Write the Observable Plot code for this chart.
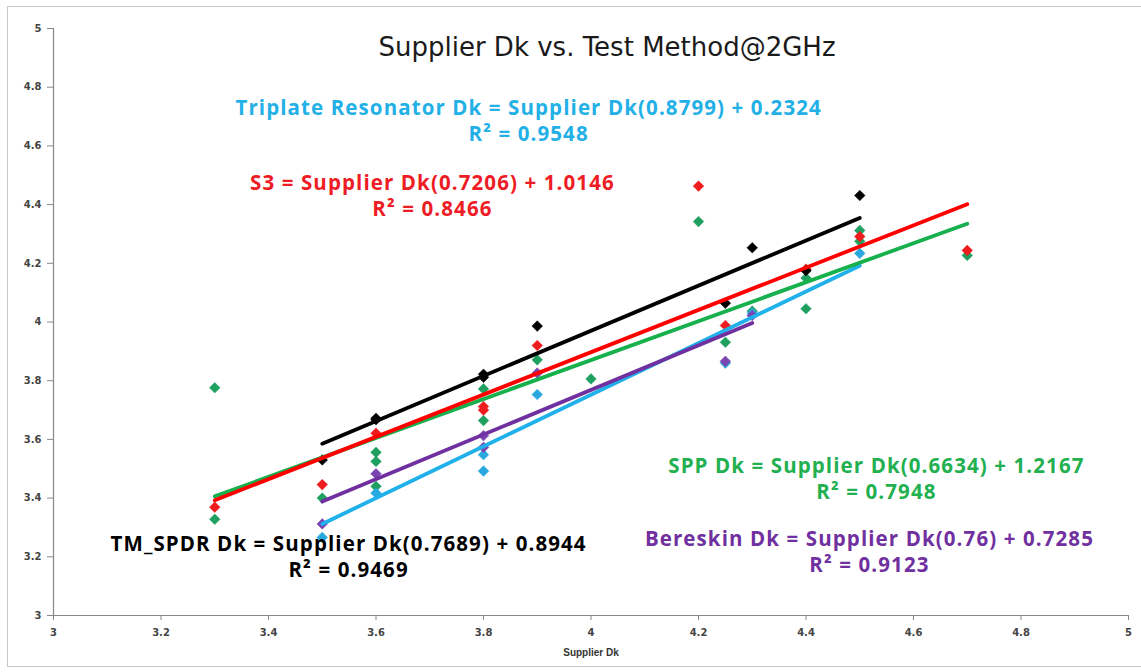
<!DOCTYPE html>
<html>
<head>
<meta charset="utf-8">
<script src="https://cdn.jsdelivr.net/npm/d3@7"></script>
<script src="https://cdn.jsdelivr.net/npm/@observablehq/plot@0.6"></script>
<style>
  html, body { margin: 0; padding: 0; background: #fff; }
  #wrap { position: relative; width: 1141px; height: 672px; }
  #border { position: absolute; left: 7px; top: 6px; width: 1134px; height: 661px; border: 1px solid #c8c8c8; box-sizing: border-box; border-right: none; pointer-events: none; }
</style>
</head>
<body>
<div id="wrap"><div id="border"></div></div>
<script>
// ---- Data ----
const seriesNames = ["TM_SPDR", "S3", "SPP", "Triplate Resonator", "Bereskin"];
const seriesColors = ["#000000", "#ee1c1c", "#1fa060", "#29a8e0", "#7a45b0"];
const lineColors  = ["#000000", "#ff0000", "#16b04c", "#20b0ea", "#7030a0"];
const labelColors = ["#000000", "#ee1c24", "#22b050", "#22b0e6", "#7030a0"];

const tmX = [3.5, 3.6, 3.6, 3.8, 3.8, 3.9, 4.25, 4.3, 4.4, 4.5];
const tmY = [3.530, 3.667, 3.672, 3.812, 3.822, 3.986, 4.064, 4.253, 4.175, 4.431];

const s3X = [3.3, 3.5, 3.6, 3.8, 3.8, 3.9, 4.2, 4.25, 4.4, 4.5, 4.7];
const s3Y = [3.369, 3.446, 3.621, 3.700, 3.712, 3.920, 4.463, 3.988, 4.180, 4.291, 4.244];

const sppX = [3.3, 3.3, 3.5, 3.6, 3.6, 3.6, 3.8, 3.8, 3.9, 4.0, 4.2, 4.25, 4.3, 4.4, 4.4, 4.5, 4.5, 4.7];
const sppY = [3.776, 3.328, 3.400, 3.556, 3.525, 3.440, 3.772, 3.664, 3.871, 3.806, 4.342, 3.931, 4.037, 4.150, 4.045, 4.312, 4.275, 4.227];

const triX = [3.5, 3.6, 3.8, 3.8, 3.9, 4.25, 4.3, 4.5];
const triY = [3.266, 3.417, 3.548, 3.492, 3.753, 3.860, 4.030, 4.234];

const berX = [3.5, 3.6, 3.8, 3.8, 3.9, 4.25, 4.3];
const berY = [3.312, 3.483, 3.613, 3.573, 3.826, 3.866, 4.022];

// trend line coefficients (slope, intercept) as printed on the chart
const slopes = [0.7689, 0.7206, 0.6634, 0.8799, 0.76];
const intercepts = [0.8944, 1.0146, 1.2167, 0.2324, 0.7285];

const eqLine1 = [
  "TM_SPDR Dk = Supplier Dk(0.7689) + 0.8944",
  "S3 = Supplier Dk(0.7206) + 1.0146",
  "SPP Dk = Supplier Dk(0.6634) + 1.2167",
  "Triplate Resonator Dk = Supplier Dk(0.8799) + 0.2324",
  "Bereskin Dk = Supplier Dk(0.76) + 0.7285"
];
const eqLine2 = ["R² = 0.9469", "R² = 0.8466", "R² = 0.7948", "R² = 0.9548", "R² = 0.9123"];
// label anchor positions in data units (Supplier Dk, Test Dk)
const labelX = [3.549, 3.705, 4.531, 3.884, 4.518];
const labelY = [3.245, 4.475, 3.511, 4.731, 3.262];

const xTicks = [3, 3.2, 3.4, 3.6, 3.8, 4, 4.2, 4.4, 4.6, 4.8, 5];
const yTicks = [3, 3.2, 3.4, 3.6, 3.8, 4, 4.2, 4.4, 4.6, 4.8, 5];

const title = "Supplier Dk vs. Test Method@2GHz";
const xLabel = "Supplier Dk";

// ---- Build tables ----
const xs = [tmX, s3X, sppX, triX, berX];
const ys = [tmY, s3Y, sppY, triY, berY];
const points = [];
xs.forEach((arr, i) => arr.forEach((x, j) => points.push({series: seriesNames[i], x, y: ys[i][j], color: seriesColors[i], order: i})));
const drawOrder = [2, 3, 4, 1, 0];
const orderedPoints = drawOrder.flatMap(k => points.filter(p => p.order === k));

const trend = [];
xs.forEach((arr, i) => {
  const [x0, x1] = d3.extent(arr);
  [x0, x1].forEach(x => trend.push({series: seriesNames[i], x, y: slopes[i] * x + intercepts[i], color: lineColors[i]}));
});
const trendOrder = [3, 4, 2, 1, 0];
const orderedTrend = trendOrder.flatMap(k => trend.filter(t => t.series === seriesNames[k]));

const labels = seriesNames.map((s, i) => ({x: labelX[i], y: labelY[i], t: eqLine1[i] + "\n" + eqLine2[i], color: labelColors[i]}));

const fmt = d => String(+d.toFixed(1));

const chart = Plot.plot({
  width: 1141,
  height: 672,
  marginLeft: 53,
  marginRight: 13,
  marginTop: 28,
  marginBottom: 57,
  style: {background: "transparent", overflow: "visible"},
  x: {domain: [3, 5], ticks: xTicks, tickFormat: fmt, label: null},
  y: {domain: [3, 5], ticks: yTicks, tickFormat: fmt, label: null},
  marks: [
    Plot.axisY({ticks: yTicks, tickFormat: fmt, tickSize: 6, tickPadding: 6, stroke: "#888", fill: "#444", fontSize: 10, fontFamily: "DejaVu Sans", fontWeight: "bold", label: null}),
    Plot.axisX({ticks: xTicks, tickFormat: fmt, tickSize: 5, tickPadding: 8, stroke: "#888", fill: "#444", fontSize: 10, fontFamily: "DejaVu Sans", fontWeight: "bold", label: null}),
    Plot.ruleX([3], {stroke: "#888", strokeWidth: 1.2}),
    Plot.ruleY([3], {stroke: "#888", strokeWidth: 1.2}),
    Plot.dot(orderedPoints, {x: "x", y: "y", symbol: "diamond2", r: 4.8, fill: "color", stroke: "color", strokeWidth: 0.5}),
    Plot.line(orderedTrend, {x: "x", y: "y", z: "series", stroke: "color", strokeWidth: 3.8}),
    Plot.text(labels, {x: "x", y: "y", text: "t", fill: "color", fontSize: 20.5, fontWeight: "bold", fontFamily: "Open Sans", lineHeight: 1.27, lineAnchor: "top", dy: -11}),
    Plot.text([title], {frameAnchor: "top", dx: 16, dy: 19, text: d => d, fontSize: 26, fontFamily: "DejaVu Sans", fill: "#1a1a1a", lineAnchor: "middle"}),
    Plot.text([xLabel], {frameAnchor: "bottom", dy: 37, text: d => d, fontSize: 10, fontWeight: "bold", fontFamily: "Liberation Sans Narrow, Liberation Sans", fill: "#333", lineAnchor: "middle"})
  ]
});
// widen the equation labels slightly (Excel label spacing)
chart.querySelectorAll("text").forEach(t => {
  if (t.textContent.includes("Supplier Dk(")) {
    t.setAttribute("letter-spacing", "1.1");
    t.style.letterSpacing = "1.1px";
  }
});
document.getElementById("wrap").prepend(chart);
</script>
</body>
</html>
